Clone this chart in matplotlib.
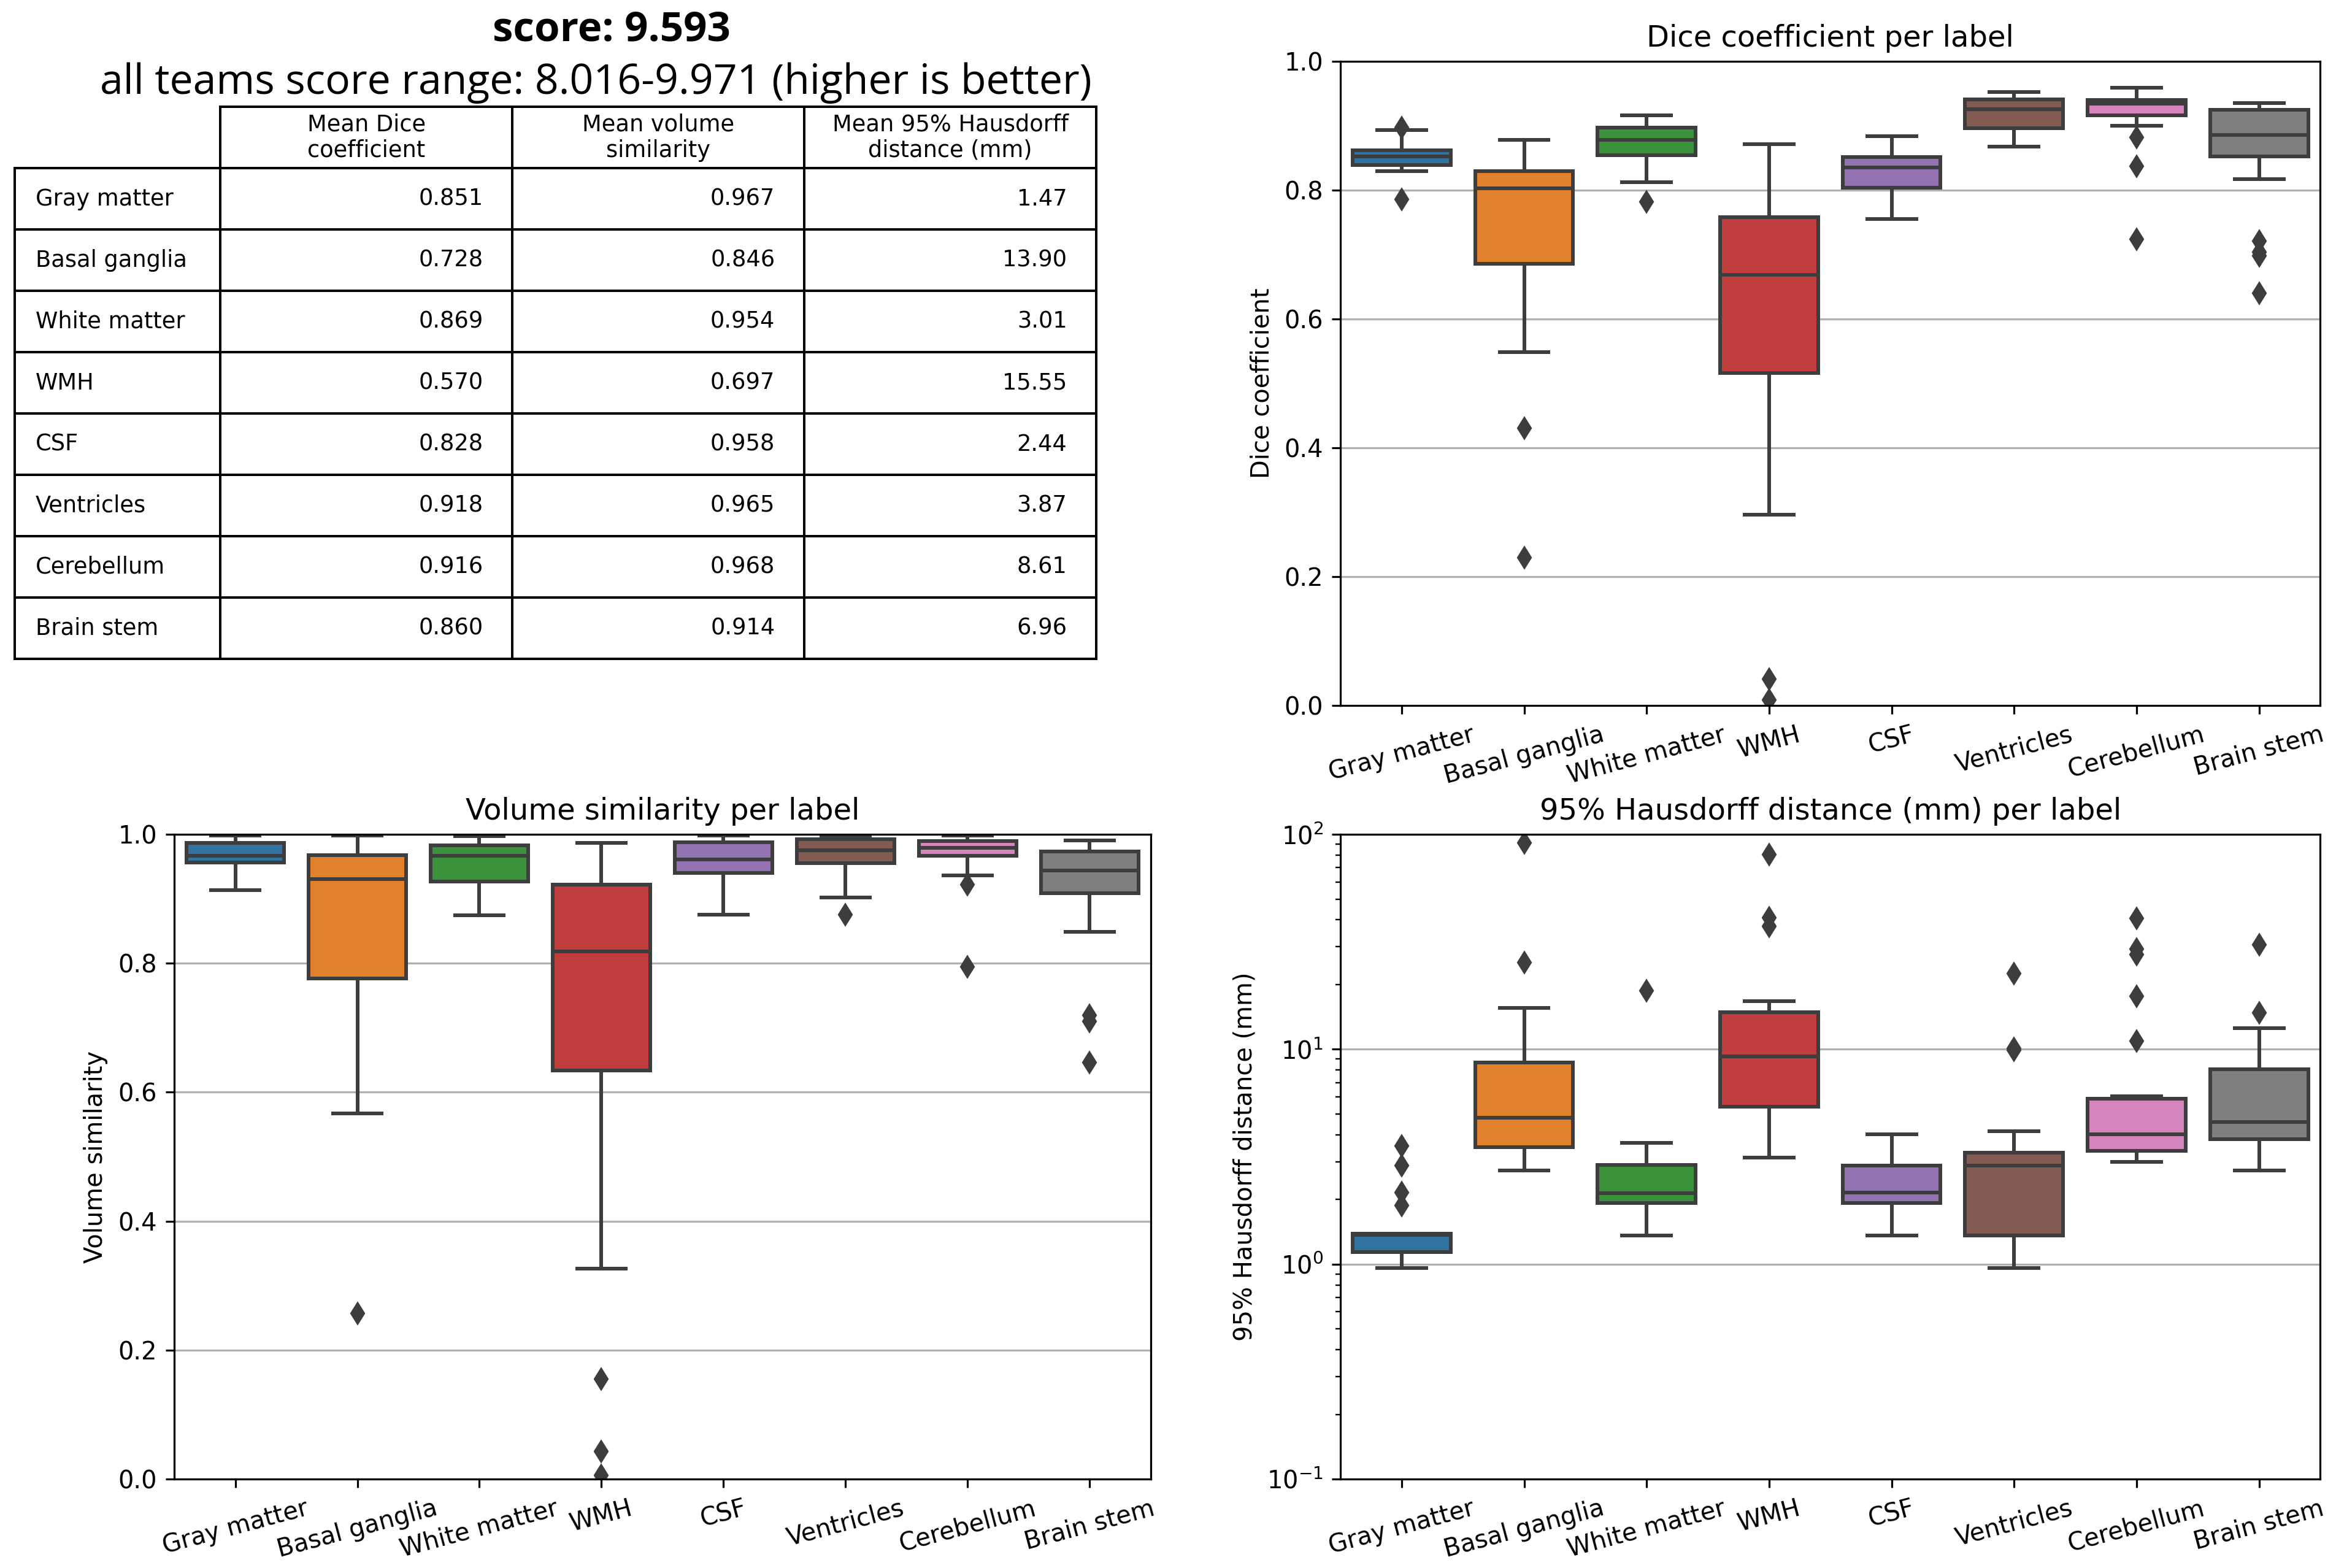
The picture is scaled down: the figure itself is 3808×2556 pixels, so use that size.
import matplotlib
matplotlib.use('Agg')
import matplotlib.pyplot as plt
from matplotlib.table import Table

plt.rcParams['font.family'] = ['DejaVu Sans']

labels = ["Gray matter", "Basal ganglia", "White matter", "WMH", "CSF",
          "Ventricles", "Cerebellum", "Brain stem"]
colors = ['#3274a1', '#e1812c', '#3a923a', '#c03d3e', '#9372b2',
          '#845b53', '#d684bd', '#7f7f7f']
gray = '#3d3d3d'

# table values
table_cols = ["Mean Dice\ncoefficient", "Mean volume\nsimilarity",
              "Mean 95% Hausdorff\ndistance (mm)"]
mean_dice = [0.851, 0.728, 0.869, 0.570, 0.828, 0.918, 0.916, 0.860]
mean_vs = [0.967, 0.846, 0.954, 0.697, 0.958, 0.965, 0.968, 0.914]
mean_hd = [1.47, 13.90, 3.01, 15.55, 2.44, 3.87, 8.61, 6.96]

score = 9.593
score_lo, score_hi = 8.016, 9.971

# Dice box stats
dice_whislo = [0.829, 0.548, 0.812, 0.296, 0.755, 0.868, 0.900, 0.817]
dice_q1 = [0.839, 0.686, 0.854, 0.516, 0.804, 0.896, 0.916, 0.852]
dice_med = [0.852, 0.803, 0.878, 0.668, 0.835, 0.926, 0.934, 0.886]
dice_q3 = [0.862, 0.829, 0.897, 0.758, 0.851, 0.941, 0.940, 0.925]
dice_whishi = [0.893, 0.878, 0.916, 0.871, 0.884, 0.952, 0.959, 0.935]
dice_fliers = [[0.897, 0.786], [0.430, 0.229], [0.782], [0.041, 0.008], [],
               [], [0.882, 0.837, 0.724], [0.721, 0.704, 0.698, 0.640]]

# volume similarity box stats
vs_whislo = [0.913, 0.567, 0.874, 0.326, 0.875, 0.902, 0.936, 0.849]
vs_q1 = [0.956, 0.776, 0.927, 0.634, 0.940, 0.955, 0.967, 0.909]
vs_med = [0.967, 0.931, 0.967, 0.818, 0.961, 0.975, 0.979, 0.944]
vs_q3 = [0.987, 0.968, 0.983, 0.922, 0.988, 0.992, 0.990, 0.973]
vs_whishi = [0.998, 0.998, 0.997, 0.987, 0.998, 0.998, 0.998, 0.991]
vs_fliers = [[], [0.257], [], [0.155, 0.043, 0.006], [], [0.875],
             [0.922, 0.795], [0.719, 0.710, 0.646]]

# 95% Hausdorff distance box stats
hd_whislo = [0.96, 2.72, 1.36, 3.13, 1.36, 0.96, 3.00, 2.72]
hd_q1 = [1.14, 3.50, 1.92, 5.40, 1.92, 1.36, 3.37, 3.82]
hd_med = [1.37, 4.79, 2.14, 9.27, 2.15, 2.87, 4.03, 4.58]
hd_q3 = [1.39, 8.69, 2.89, 14.9, 2.87, 3.31, 5.89, 8.05]
hd_whishi = [1.39, 15.6, 3.67, 16.7, 4.03, 4.15, 6.05, 12.5]
hd_fliers = [[3.54, 2.87, 2.15, 1.88], [91.1, 25.3], [18.7], [80.3, 41.0, 37.3],
             [], [22.5, 10.1, 9.9], [40.7, 29.3, 27.6, 17.7, 10.9], [30.6, 14.8]]


def make_stats(whislo, q1, med, q3, whishi, fliers):
    stats = []
    for i in range(len(labels)):
        stats.append(dict(label=labels[i], whislo=whislo[i], q1=q1[i], med=med[i],
                          q3=q3[i], whishi=whishi[i], fliers=fliers[i]))
    return stats


def draw_box(ax, stats, title, ylabel):
    ax.set_axisbelow(True)
    ax.yaxis.grid(True, which='major', color='#b0b0b0', linewidth=0.8)
    bp = ax.bxp(stats, positions=range(len(stats)), widths=0.8, patch_artist=True,
                boxprops=dict(edgecolor=gray, linewidth=1.5),
                medianprops=dict(color=gray, linewidth=1.5),
                whiskerprops=dict(color=gray, linewidth=1.5),
                capprops=dict(color=gray, linewidth=1.5),
                flierprops=dict(marker='d', markerfacecolor=gray,
                                markeredgecolor=gray, markersize=5.6))
    for patch, c in zip(bp['boxes'], colors):
        patch.set_facecolor(c)
    ax.set_xlim(-0.5, len(stats) - 0.5)
    ax.set_xticks(range(len(stats)))
    ax.set_xticklabels(labels, rotation=15)
    ax.set_title(title, fontsize=12)
    ax.set_ylabel(ylabel)


fig = plt.figure(figsize=(3808 / 288, 2556 / 288), dpi=288)

# title lines
fig.text(0.2618, 0.9738, 'score: %.3f' % score, ha='center', va='baseline',
         fontsize=16.8, fontweight='bold', family=['Open Sans', 'DejaVu Sans'])
fig.text(0.2550, 0.9401,
         'all teams score range: %.3f-%.3f (higher is better)' % (score_lo, score_hi),
         ha='center', va='baseline', fontsize=17.0, family=['Open Sans', 'DejaVu Sans'])

# summary table: first column holds the label names, no top-left cell
ax_t = fig.add_axes([0.0063, 0.5797, 0.4630, 0.3522])
ax_t.axis('off')
tab = Table(ax_t, bbox=[0, 0, 1, 1])
label_w = 337 / 1773.
col_w = (1 - label_w) / 3
row_h = 1 / (len(labels) + 1.)
for j, name in enumerate(table_cols):
    tab.add_cell(0, j + 1, col_w, row_h, text=name, loc='center')
for i in range(len(labels)):
    vals = ['%.3f' % mean_dice[i], '%.3f' % mean_vs[i], '%.2f' % mean_hd[i]]
    tab.add_cell(i + 1, 0, label_w, row_h, text=labels[i], loc='left')
    for j, v in enumerate(vals):
        tab.add_cell(i + 1, j + 1, col_w, row_h, text=v, loc='right')
tab.auto_set_font_size(False)
tab.set_fontsize(9.2)
ax_t.add_table(tab)

ax_d = fig.add_axes([0.5738, 0.5502, 0.4195, 0.4107])
draw_box(ax_d, make_stats(dice_whislo, dice_q1, dice_med, dice_q3, dice_whishi, dice_fliers),
         'Dice coefficient per label', 'Dice coefficient')
ax_d.set_ylim(0, 1)

ax_v = fig.add_axes([0.0746, 0.0567, 0.4180, 0.4112])
draw_box(ax_v, make_stats(vs_whislo, vs_q1, vs_med, vs_q3, vs_whishi, vs_fliers),
         'Volume similarity per label', 'Volume similarity')
ax_v.set_ylim(0, 1)

ax_h = fig.add_axes([0.5738, 0.0567, 0.4195, 0.4112])
ax_h.set_yscale('log')
draw_box(ax_h, make_stats(hd_whislo, hd_q1, hd_med, hd_q3, hd_whishi, hd_fliers),
         '95% Hausdorff distance (mm) per label', '95% Hausdorff distance (mm)')
ax_h.set_ylim(0.1, 100)

fig.savefig('out.png', dpi=288)
